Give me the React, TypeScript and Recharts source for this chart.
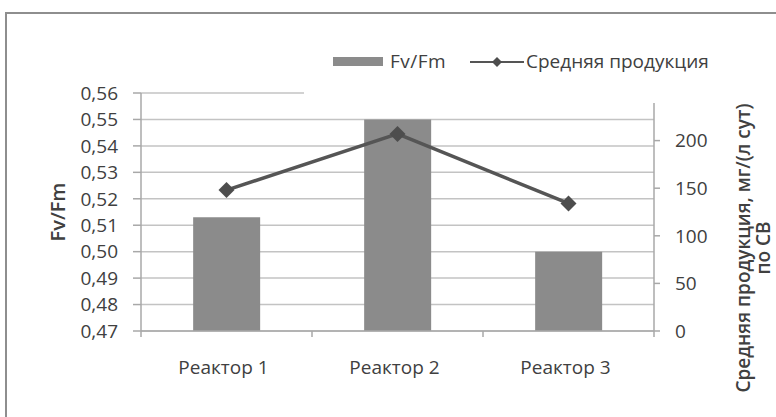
import React from 'react';
import {
  ComposedChart, Bar, Line, XAxis, YAxis, CartesianGrid, Legend, Label,
} from 'recharts';

const categories = ['Реактор 1', 'Реактор 2', 'Реактор 3'];
const fvfmValues = [0.513, 0.55, 0.5];
const productionValues = [148, 207, 134];
const fvfmTicks = [0.47, 0.48, 0.49, 0.5, 0.51, 0.52, 0.53, 0.54, 0.55, 0.56];
const productionTicks = [0, 50, 100, 150, 200];

const seriesBarName = 'Fv/Fm';
const seriesLineName = 'Средняя продукция';
const leftTitle = 'Fv/Fm';
const rightTitle1 = 'Средняя продукция, мг/(л сут)';
const rightTitle2 = 'по СВ';

const data = categories.map((name, i) => ({
  name,
  fvfm: fvfmValues[i],
  prod: productionValues[i],
}));

const FONT = '"Open Sans", sans-serif';
const TEXT = '#404040';
const BAR = '#8b8b8b';
const LINE = '#555555';
const GRID = '#c3c3c3';
const AXIS = '#a8a8a8';

const Diamond = (props: any) => {
  const { cx, cy } = props;
  if (cx == null || cy == null) return null;
  const r = 8;
  return (
    <polygon
      points={`${cx},${cy - r} ${cx + r},${cy} ${cx},${cy + r} ${cx - r},${cy}`}
      fill="#4d4d4d"
    />
  );
};

const CategoryTick = (props: any) => {
  const { x, y, payload, index, visibleTicksCount } = props;
  const half = payload && typeof payload.offset === 'number' ? payload.offset : 0;
  const isLast = visibleTicksCount != null ? index === visibleTicksCount - 1 : index === categories.length - 1;
  return (
    <g>
      {half > 0 && <line x1={x - half} y1={y} x2={x - half} y2={y + 6} stroke={AXIS} strokeWidth={1.5} />}
      {half > 0 && isLast && <line x1={x + half} y1={y} x2={x + half} y2={y + 6} stroke={AXIS} strokeWidth={1.5} />}
      <text x={x - 3} y={y + 30} dy="0.71em" textAnchor="middle" fontFamily={FONT} fontSize={19} fill={TEXT}>
        {payload.value}
      </text>
    </g>
  );
};

const renderLegend = () => (
  <div style={{ position: 'relative', width: '100%', height: '100%', background: '#fff', fontFamily: FONT, fontSize: 19, color: TEXT }}>
    <div style={{ position: 'absolute', left: 29, top: 17, width: 50, height: 9, background: BAR }} />
    <div style={{ position: 'absolute', left: 86, top: 8, lineHeight: '26px', whiteSpace: 'nowrap', letterSpacing: 0.5 }}>{seriesBarName}</div>
    <svg style={{ position: 'absolute', left: 166, top: 14 }} width={54} height={16}>
      <line x1={0} y1={8} x2={54} y2={8} stroke={LINE} strokeWidth={2} />
      <polygon points="27,3 32,8 27,13 22,8" fill="#4d4d4d" />
    </svg>
    <div style={{ position: 'absolute', left: 222, top: 8, lineHeight: '26px', whiteSpace: 'nowrap' }}>{seriesLineName}</div>
  </div>
);

const LeftTitle = (props: any) => {
  const vb = props.viewBox || {};
  const x = vb.x + 57;
  const y = vb.y + vb.height / 2;
  return (
    <text x={x} y={y} transform={`rotate(-90 ${x} ${y})`} textAnchor="middle" dominantBaseline="central"
      fontFamily={FONT} fontSize={20} fontWeight={600} fill={TEXT}>{leftTitle}</text>
  );
};

const RightTitle = (props: any) => {
  const vb = props.viewBox || {};
  const y = vb.y + vb.height / 2 + 36;
  const x1 = vb.x + 89;
  const x2 = vb.x + 109;
  return (
    <g>
      <text x={x1} y={y} transform={`rotate(-90 ${x1} ${y})`} textAnchor="middle" dominantBaseline="central"
        fontFamily={FONT} fontSize={19} fontWeight={600} fill={TEXT}>{rightTitle1}</text>
      <text x={x2} y={y} transform={`rotate(-90 ${x2} ${y})`} textAnchor="middle" dominantBaseline="central"
        fontFamily={FONT} fontSize={19} fontWeight={600} fill={TEXT}>{rightTitle2}</text>
    </g>
  );
};

export default function App() {
  const tickStyle = { fontFamily: FONT, fontSize: 19, fill: TEXT };
  return (
    <div style={{ position: 'absolute', left: 0, top: 0, width: 776, height: 417, overflow: 'hidden', background: '#fff' }}>
      <div style={{ position: 'absolute', left: 5, top: 12, width: 900, height: 600, border: '2px solid #8e8e8e' }} />
      <div style={{ position: 'absolute', left: 0, top: 0 }}>
        <ComposedChart
          width={776}
          height={417}
          data={data}
          margin={{ top: 93, right: 0, bottom: 0, left: 0 }}
          barCategoryGap="30.5%"
        >
          <CartesianGrid vertical={false} stroke={GRID} strokeWidth={1.5} />
          <XAxis
            dataKey="name"
            type="category"
            height={86}
            axisLine={{ stroke: AXIS, strokeWidth: 1.5 }}
            tickLine={false}
            tickSize={0}
            tickMargin={0}
            tick={<CategoryTick />}
            interval={0}
          />
          <YAxis
            domain={[0.47, 0.56]}
            ticks={fvfmTicks}
            width={141}
            axisLine={{ stroke: AXIS, strokeWidth: 1.5 }}
            tickLine={{ stroke: AXIS, strokeWidth: 1.5 }}
            tickSize={8}
            tickMargin={15}
            tick={tickStyle}
            tickFormatter={(v: number) => v.toFixed(2).replace('.', ',')}
            interval={0}
            allowDataOverflow
          >
            <Label content={<LeftTitle />} />
          </YAxis>
          <YAxis
            yAxisId="right"
            orientation="right"
            domain={[0, 250]}
            ticks={productionTicks}
            width={122}
            axisLine={{ stroke: AXIS, strokeWidth: 1.5 }}
            tickLine={{ stroke: AXIS, strokeWidth: 1.5 }}
            tickSize={6}
            tickMargin={15}
            tick={tickStyle}
            interval={0}
          >
            <Label content={<RightTitle />} />
          </YAxis>
          <Bar dataKey="fvfm" name={seriesBarName} fill={BAR} isAnimationActive={false} />
          <Line
            dataKey="prod"
            name={seriesLineName}
            yAxisId="right"
            stroke={LINE}
            strokeWidth={3.5}
            dot={<Diamond />}
            activeDot={false}
            isAnimationActive={false}
          />
          <Legend
            content={renderLegend}
            layout="horizontal"
            verticalAlign="middle"
            align="center"
            wrapperStyle={{ left: 304, top: 40, width: 420, height: 63 }}
          />
        </ComposedChart>
      </div>
    </div>
  );
}
